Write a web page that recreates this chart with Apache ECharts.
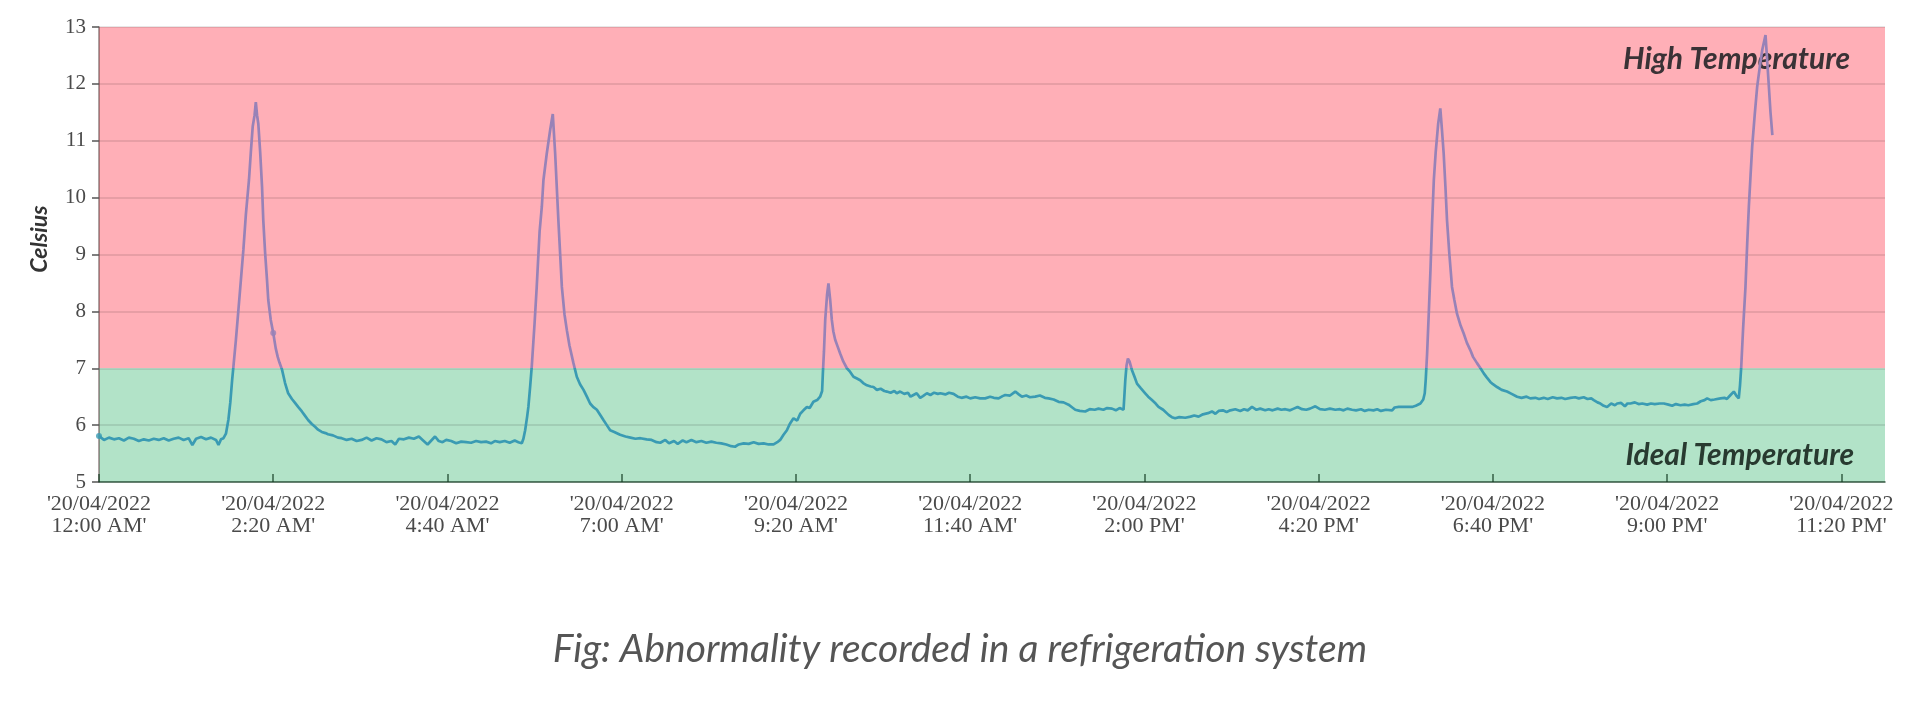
<!DOCTYPE html>
<html>
<head>
<meta charset="utf-8">
<title>Abnormality recorded in a refrigeration system</title>
<script src="https://cdn.jsdelivr.net/npm/echarts@6/dist/echarts.min.js"></script>
<style>
html,body{margin:0;padding:0;background:#fff;}
#chart{width:1920px;height:720px;}
</style>
</head>
<body>
<div id="chart"></div>
<script>
// ---- Data (minutes after 12:00 AM on 20/04/2022, temperature in Celsius) ----
const readingsNight = [
[0,5.81],[4,5.74],[8,5.78],[12,5.75],[16,5.77],[20,5.73],[24,5.78],[28,5.76],[32,5.72],[36,5.75],
[40,5.73],[44,5.76],[48,5.74],[52,5.77],[56,5.73],[60,5.76],[64,5.78],[68,5.74],[72,5.77],[75,5.65],
[78,5.76],[82,5.79],[86,5.75],[90,5.78],[94,5.74],[96,5.65],[98,5.75],[100,5.77],
[102,5.85],[104,6.1],[105.5,6.4],[107,6.8],[108,7.03],[110,7.5],[112,8.02],[114,8.55],[116,9.08],
[118,9.7],[120.5,10.31],[122,10.8],[123.5,11.25],[125,11.45],[126,11.68],[127,11.45],[128,11.3],
[129.5,10.8],[131,10.19],[132,9.6],[133.5,9.02],[135,8.55],[136,8.2],[138,7.85],[140,7.62],[142,7.35],
[143.6,7.2],[145,7.1],[147,6.98],[149.5,6.74],[152,6.56],[155,6.46],[157.5,6.39],[160,6.32],[163,6.24],
[165,6.18],[168,6.09],[171,6.02],[173.6,5.97],[176,5.92],[179,5.88],[182,5.86],[184,5.84],[188,5.82],
[192,5.78],[195,5.77],[199,5.74],[203,5.76],[207,5.72],[211,5.74],[215,5.78],[219,5.73],[223,5.77],
[227,5.75],[231,5.70],[235,5.72],[238,5.66],[241,5.76],[245,5.75],[249,5.78],[253,5.76],[257,5.80],
[260,5.74],[264,5.66],[267,5.73],[270,5.80],[273,5.72],[276,5.70],[279,5.74],[283,5.72],[287,5.68],
[291,5.71],[295,5.70],[299,5.69],[303,5.72],[307,5.70],[311,5.71],[315,5.68],[318,5.72],[322,5.70],
[326,5.72],[330,5.69],[334,5.73],[337,5.70],[339.7,5.68]
];
const readingsMorning = [
[341,5.76],[342.4,5.91],[344,6.15],[345,6.32],[346.5,6.7],[347.7,7.03],[350,7.8],[351.7,8.43],
[354,9.4],[355.8,9.84],[357.1,10.31],[359.8,10.78],[362.5,11.19],[364.6,11.47],[366.5,10.78],
[369.1,9.6],[371.9,8.43],[374,7.95],[375.9,7.67],[378,7.4],[381.2,7.09],[383.9,6.85],[386.5,6.72],
[389.3,6.62],[392,6.5],[394.6,6.38],[397,6.32],[400,6.27],[403,6.17],[405.3,6.09],[408,6.0],
[410.7,5.91],[414,5.88],[418.7,5.83],[423,5.80],[427,5.78],[431,5.76],[435,5.77],[440,5.75],
[444,5.74],[448,5.70],[451,5.69],[455,5.74],[458,5.68],[462,5.72],[465,5.67],[469,5.73],[472,5.70],
[476,5.74],[480,5.70],[484,5.72],[488,5.69],[492,5.71],[496,5.69],[500,5.68],[504,5.66],[508,5.63],
[511,5.62],[514,5.66],[518,5.68],[522,5.67],[526,5.70],[530,5.67],[534,5.68],[538,5.66],[542,5.66],
[545,5.70],[547.3,5.74],[550,5.83],[552.7,5.91],[555,6.02],[558,6.12],[561,6.08],[563.4,6.2],
[566,6.26],[568.8,6.32],[571,6.30],[574,6.41],[577,6.44],[579.4,6.50],[581,6.6],[581.6,6.91],
[582.5,7.3],[583.5,7.85],[585,8.3],[586.1,8.49],[587.5,8.2],[588.8,7.85],[590,7.65],[591.5,7.5],
[593.5,7.38],[595.5,7.26],[598,7.12],[600.9,7.0],[603,6.95],[606.2,6.85],[609,6.82],[611.6,6.79],
[614,6.74],[617,6.70],[620,6.68],[622.3,6.67],[625,6.62],[628,6.64],[631,6.60],[633,6.59],[636,6.57],
[639,6.60],[641,6.56],[643.7,6.59],[647,6.55],[650,6.57],[652,6.50],[654.4,6.53],[657,6.56],
[659.8,6.48],[662,6.51],[665.2,6.56],[668,6.53],[671,6.57],[674,6.55],[676,6.56],[680,6.54],
[683,6.57],[686.6,6.55],[690,6.50],[693,6.48],[697,6.50],[700,6.47],[704,6.49],[708,6.47]
];
const readingsAfternoon = [
[712,6.47],[716,6.50],[719,6.48],[722.8,6.47],[726,6.51],[728.1,6.53],[732,6.52],[736.2,6.59],
[739,6.54],[741.5,6.50],[745,6.52],[748,6.49],[752.2,6.50],[756,6.52],[760,6.48],[763,6.47],
[767,6.45],[771,6.41],[775,6.40],[779,6.36],[782,6.31],[784.4,6.27],[788,6.25],[792.4,6.24],
[796,6.28],[800,6.27],[803.1,6.29],[807,6.27],[810,6.30],[813.9,6.29],[817,6.26],[820,6.30],
[823.2,6.27],[824.6,6.79],[825.6,7.05],[826.7,7.17],[828,7.12],[829.9,6.97],[832,6.85],[834,6.73],
[837,6.65],[840.6,6.56],[843,6.50],[846,6.44],[849,6.38],[851.3,6.32],[855,6.27],[859.4,6.18],
[862,6.14],[864.7,6.12],[868,6.14],[872.8,6.13],[877,6.15],[880,6.17],[883.5,6.15],[887,6.19],
[891,6.21],[894.2,6.24],[897,6.20],[899.6,6.25],[903,6.26],[906,6.23],[909,6.26],[913,6.28],
[917,6.25],[920,6.28],[923,6.26],[926.4,6.32],[930,6.27],[933,6.29],[937,6.26],[939.8,6.28],
[943,6.26],[947,6.29],[950,6.27],[953.2,6.28],[957,6.26],[960,6.29],[963,6.32],[966.6,6.28],
[970,6.27],[973,6.29],[977.3,6.33],[981,6.28],[985,6.27],[989,6.29],[993.4,6.27],[997,6.28],
[1000,6.26],[1003,6.29],[1006.8,6.27],[1010,6.26],[1014,6.28],[1017,6.25],[1020.2,6.27],[1024,6.26],
[1027,6.28],[1030,6.25],[1034,6.27],[1039,6.26],[1041,6.31],[1044.3,6.32],[1048,6.32],[1052,6.32],
[1055,6.32],[1058,6.34],[1061.7,6.38],[1064,6.45],[1065.2,6.56]
];
const readingsEvening = [
[1066,6.8],[1067.1,7.26],[1068.5,8.0],[1069.8,8.73],[1071,9.5],[1072.5,10.31],[1074,10.8],[1076,11.3],
[1077.7,11.57],[1079,11.2],[1080.4,10.78],[1081.8,10.2],[1083.1,9.6],[1085,9.0],[1087.1,8.43],
[1089,8.2],[1091.1,7.96],[1094,7.75],[1096.5,7.61],[1099,7.45],[1101.8,7.32],[1104,7.2],[1107.2,7.09],
[1110,7.0],[1112.6,6.91],[1115,6.84],[1117.9,6.76],[1120,6.72],[1123.3,6.67],[1127,6.62],[1131.3,6.59],
[1135,6.55],[1139.4,6.50],[1143,6.48],[1147,6.50],[1150,6.47],[1154,6.48],[1157,6.46],[1160.8,6.48],
[1164,6.46],[1168,6.49],[1171.5,6.47],[1175,6.48],[1178,6.46],[1182.2,6.48],[1186,6.49],[1189,6.47],
[1192.9,6.49],[1196,6.46],[1199,6.47],[1201,6.44],[1204,6.40],[1206.3,6.38],[1209,6.34],[1211.7,6.32],
[1215,6.38],[1218,6.35],[1219.8,6.38],[1223,6.39],[1226,6.33],[1228,6.38],[1230.5,6.38],[1234,6.40],
[1237,6.37],[1240,6.38],[1243.9,6.36],[1247,6.38],[1250,6.37],[1254,6.38],[1257.3,6.38],[1261,6.36],
[1264,6.34],[1267,6.37],[1270.7,6.35],[1274,6.36],[1277,6.35],[1281,6.37],[1284.1,6.38],[1287,6.42],
[1290,6.44],[1292.1,6.47],[1295,6.44],[1298,6.45],[1302.8,6.47],[1306,6.48],[1308,6.46],[1310.9,6.53],
[1313.5,6.59],[1315.5,6.52],[1317.5,6.47],[1318.5,6.7],[1319.5,7.03],[1321,7.7],[1322.9,8.43],
[1324.3,9.2],[1325.6,9.84],[1327,10.4],[1328.3,10.9],[1330.3,11.45],[1332.3,11.95],[1334.4,12.3],
[1336.4,12.6],[1339,12.86],[1341.7,11.95],[1343,11.5],[1344.5,11.1]
];
const highlightedPoints = [[0,5.81],[140,7.62]];

const idealMin = 5, threshold = 7, highMax = 13;
const xTickMinutes = [0,140,280,420,560,700,840,980,1120,1260,1400];
const xTickLabels = [
"'20/04/2022\n12:00 AM'","'20/04/2022\n2:20 AM'","'20/04/2022\n4:40 AM'","'20/04/2022\n7:00 AM'",
"'20/04/2022\n9:20 AM'","'20/04/2022\n11:40 AM'","'20/04/2022\n2:00 PM'","'20/04/2022\n4:20 PM'",
"'20/04/2022\n6:40 PM'","'20/04/2022\n9:00 PM'","'20/04/2022\n11:20 PM'"
];
const xAxisEnd = 1435;
const yAxisName = 'Celsius';
const bandLabels = ['High Temperature','Ideal Temperature'];
const captionText = 'Fig: Abnormality recorded in a refrigeration system';

const readings = readingsNight.concat(readingsMorning, readingsAfternoon, readingsEvening);

const TEAL = '#3a9bb3', PURPLE = '#9882b7';
const chart = echarts.init(document.getElementById('chart'), null, {renderer:'canvas'});
const serif = '"Liberation Serif","DejaVu Serif",serif';
const option = {
  animation:false,
  backgroundColor:'#ffffff',
  grid:{left:99,right:35,top:27,bottom:238,containLabel:false},
  xAxis:{
    type:'value', min:0, max:xAxisEnd, z:3,
    splitLine:{show:false},
    axisLine:{show:true,lineStyle:{color:'rgba(20,60,35,0.8)',width:1.5}},
    axisTick:{show:true,inside:true,length:8,customValues:xTickMinutes,lineStyle:{color:'rgba(20,60,35,0.8)',width:1.5}},
    axisLabel:{
      customValues:xTickMinutes, margin:11,
      color:'#4a4a4a', fontFamily:serif, fontSize:22, lineHeight:22,
      formatter:function(v){ const i = xTickMinutes.indexOf(v); return i>=0 ? xTickLabels[i] : ''; }
    }
  },
  yAxis:{
    type:'value', min:idealMin, max:highMax, interval:1, z:3,
    axisLine:{show:true,lineStyle:{color:'rgba(60,30,30,0.55)',width:1.5}},
    axisTick:{show:true,length:7,lineStyle:{color:'#555',width:1.5}},
    axisLabel:{margin:13,color:'#4a4a4a',fontFamily:serif,fontSize:21},
    splitLine:{show:true,lineStyle:{color:'rgba(0,0,0,0.13)',width:1.6}}
  },
  series:[
    {
      type:'line', z:1, silent:true, data:readings, showSymbol:false,
      lineStyle:{opacity:0}, tooltip:{show:false},
      markArea:{
        silent:true,
        data:[
          [{yAxis:threshold, itemStyle:{color:'#ffafb7'},
            label:{show:true,position:'insideTopRight',offset:[-30,12],formatter:bandLabels[0],
              fontFamily:'Lato',fontStyle:'italic',fontWeight:'bold',fontSize:30,color:'#3a3236'}},
           {yAxis:highMax}],
          [{yAxis:idealMin, itemStyle:{color:'#b2e3c8'},
            label:{show:true,position:'insideBottomRight',offset:[-26,-7],formatter:bandLabels[1],
              fontFamily:'Lato',fontStyle:'italic',fontWeight:'bold',fontSize:30,color:'#283a30'}},
           {yAxis:threshold}]
        ]
      }
    },
    {
      type:'line', z:5, data:readings, showSymbol:false, smooth:false,
      lineStyle:{width:2.7,color:TEAL}
    },
    {
      type:'scatter', z:6, data:highlightedPoints, symbolSize:6,
      itemStyle:{color:function(p){ return p.value[1] > threshold ? PURPLE : TEAL; }}
    }
  ],
  graphic:[
    {type:'text', x:40, y:239, rotation:Math.PI/2,
     style:{text:yAxisName, fontFamily:'Lato', fontStyle:'italic', fontWeight:'bold', fontSize:23,
       fill:'#333', align:'center', verticalAlign:'middle'}},
    {type:'text', x:960, y:649,
     style:{text:captionText, fontFamily:'Lato', fontStyle:'italic', fontSize:39,
       fill:'#555', align:'center', verticalAlign:'middle'}}
  ]
};
chart.setOption(option);
// Colour the line purple above the threshold and teal below, split at the threshold's pixel row.
const yThreshold = chart.convertToPixel({yAxisIndex:0}, threshold);
const H = chart.getHeight();
const f = yThreshold / H;
chart.setOption({series:[{},{lineStyle:{color:new echarts.graphic.LinearGradient(0,0,0,H,[
  {offset:0,color:PURPLE},{offset:f,color:PURPLE},{offset:f,color:TEAL},{offset:1,color:TEAL}],true)}},{}]});
</script>
</body>
</html>
